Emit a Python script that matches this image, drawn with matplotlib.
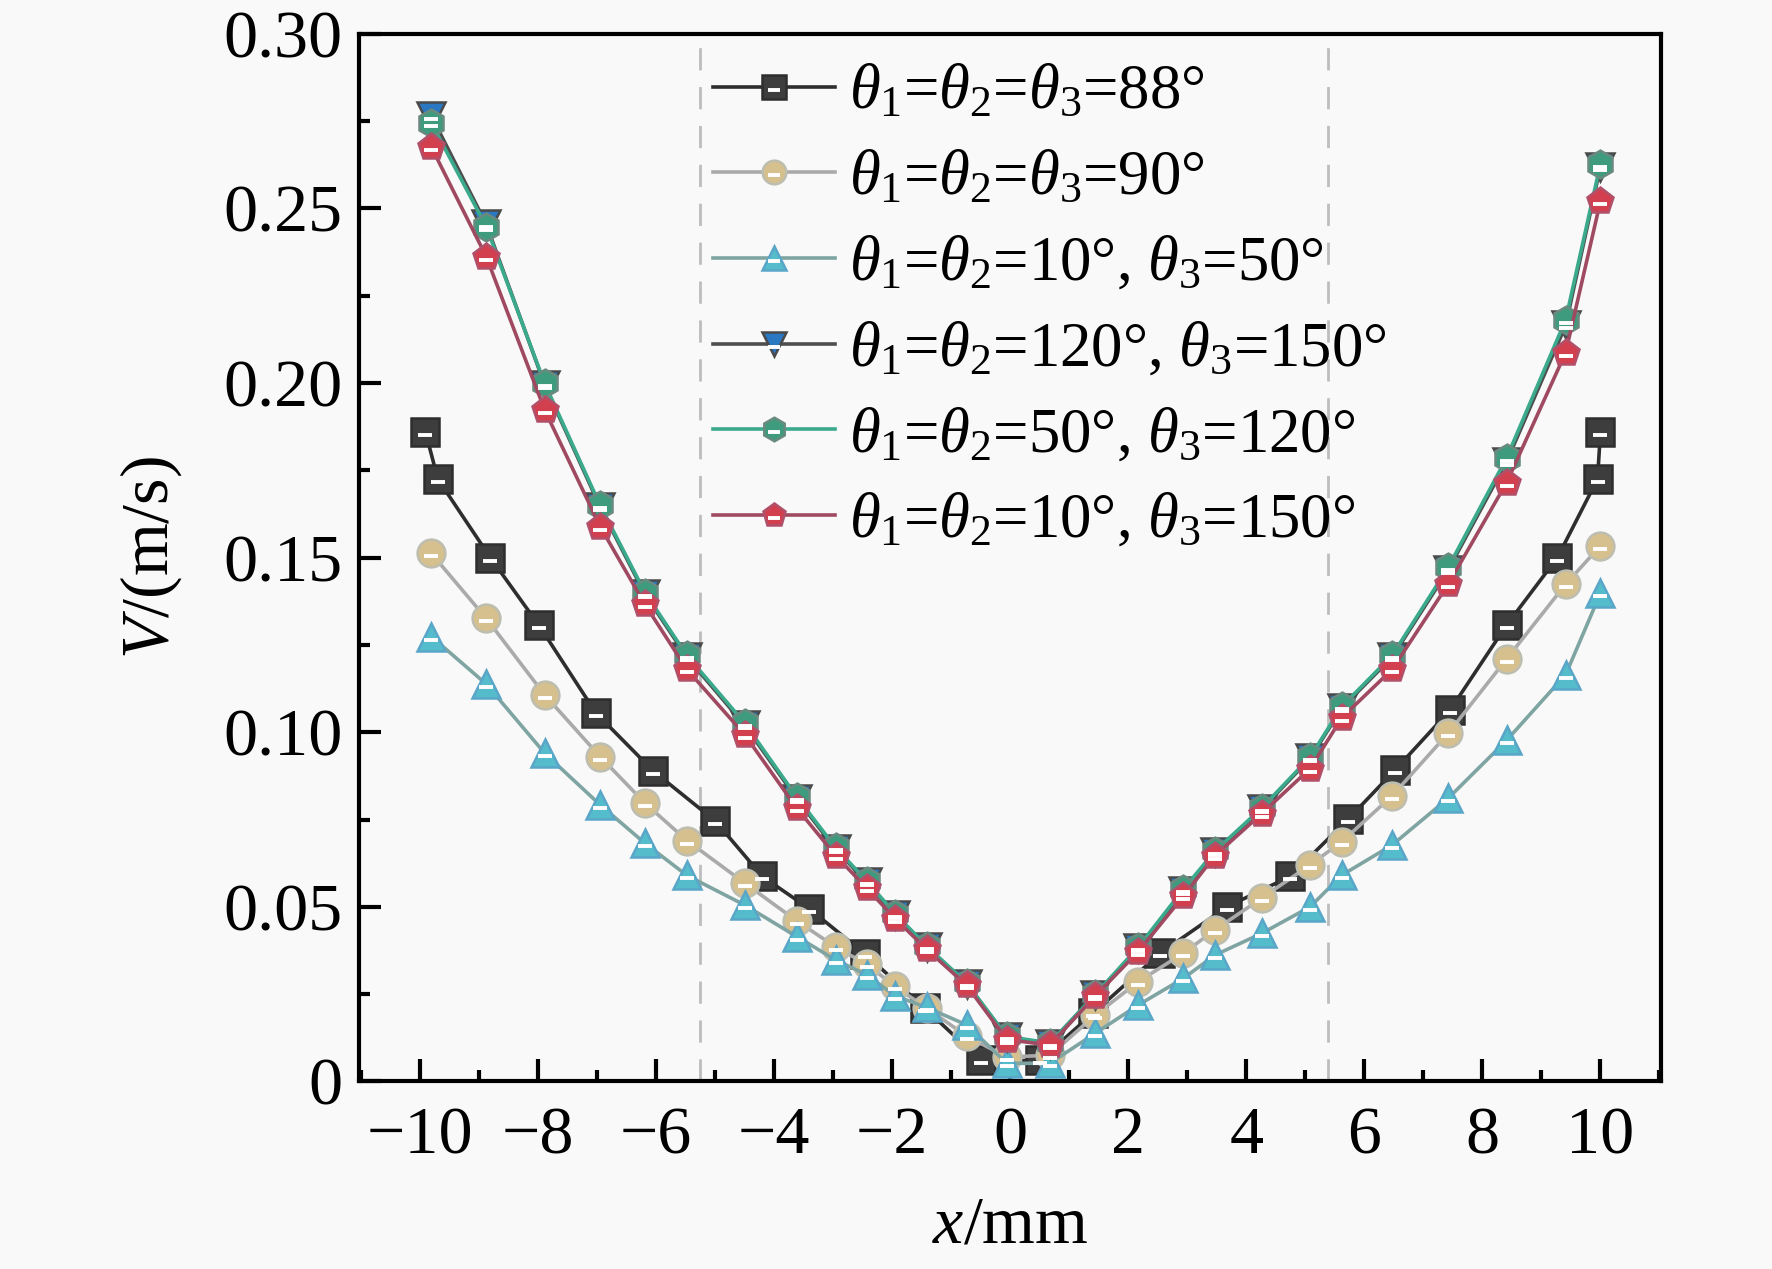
import numpy as np
import matplotlib
matplotlib.use("Agg")
import matplotlib.pyplot as plt
from matplotlib.path import Path
from matplotlib.legend_handler import HandlerTuple
from matplotlib.ticker import MultipleLocator, FuncFormatter

plt.rcParams['font.family'] = ['Liberation Serif', 'DejaVu Serif']
plt.rcParams['mathtext.fontset'] = 'custom'
plt.rcParams['mathtext.rm'] = 'Liberation Serif'
plt.rcParams['mathtext.it'] = 'Liberation Serif:italic'

# x positions (mm) -- squares use their own mesh points
x_sq = [-9.91, -9.70, -8.81, -7.99, -7.02, -6.05, -5.00, -4.20, -3.41, -2.46, -1.45, -0.50,
        0.50, 1.40, 2.54, 3.67, 4.74, 5.73, 6.52, 7.45, 8.41, 9.27, 9.95, 10.00]
x_pts = [-9.81, -8.88, -7.89, -6.95, -6.19, -5.48, -4.50, -3.62, -2.96, -2.43, -1.95, -1.42, -0.74,
         -0.06, 0.67, 1.44, 2.17, 2.93, 3.47, 4.26, 5.08, 5.62, 6.47, 7.42, 8.41, 9.41, 10.00]

v_88 = [0.186, 0.1725, 0.150, 0.1307, 0.1055, 0.0889, 0.0746, 0.0587, 0.0495, 0.0365, 0.021, 0.006,
        0.006, 0.0195, 0.0367, 0.050, 0.0587, 0.0752, 0.0892, 0.1063, 0.1307, 0.150, 0.1725, 0.186]
v_90 = [0.1512, 0.1326, 0.1107, 0.0930, 0.0797, 0.0690, 0.0568, 0.0460, 0.0385, 0.0335, 0.0272, 0.0210,
        0.0130, 0.0070, 0.0075, 0.0190, 0.0286, 0.0367, 0.0434, 0.0525, 0.0620, 0.0687, 0.0818, 0.0997,
        0.1210, 0.1424, 0.1534]
v_10_50 = [0.1274, 0.1138, 0.0940, 0.0792, 0.0682, 0.0590, 0.0505, 0.0415, 0.0348, 0.0305, 0.0245, 0.0212,
           0.0162, 0.0052, 0.0052, 0.0138, 0.0219, 0.0295, 0.0362, 0.0424, 0.0500, 0.0591, 0.0677, 0.0811,
           0.0977, 0.1165, 0.1398]
v_120_150 = [0.2765, 0.2455, 0.1995, 0.1645, 0.1395, 0.1215, 0.1020, 0.0810, 0.0665, 0.0570, 0.0478, 0.0386,
             0.0280, 0.0127, 0.0108, 0.0247, 0.0382, 0.0545, 0.0656, 0.0780, 0.0925, 0.1070, 0.1215, 0.1465,
             0.1775, 0.2165, 0.2620]
v_50_120 = [0.2745, 0.2448, 0.1999, 0.1650, 0.1400, 0.1220, 0.1026, 0.0815, 0.0670, 0.0573, 0.0480, 0.0388,
            0.0282, 0.0129, 0.0110, 0.0249, 0.0385, 0.0550, 0.0660, 0.0783, 0.0929, 0.1074, 0.1220, 0.1472,
            0.1786, 0.2181, 0.2628]
v_10_150 = [0.2676, 0.2362, 0.1923, 0.1589, 0.1366, 0.1180, 0.0993, 0.0783, 0.0647, 0.0553, 0.0466, 0.0379,
            0.0275, 0.0120, 0.0104, 0.0245, 0.0372, 0.0530, 0.0647, 0.0767, 0.0896, 0.1042, 0.1180, 0.1424,
            0.1715, 0.2087, 0.2521]

labels = [r'$\theta_1$=$\theta_2$=$\theta_3$=88°',
          r'$\theta_1$=$\theta_2$=$\theta_3$=90°',
          r'$\theta_1$=$\theta_2$=10°, $\theta_3$=50°',
          r'$\theta_1$=$\theta_2$=120°, $\theta_3$=150°',
          r'$\theta_1$=$\theta_2$=50°, $\theta_3$=120°',
          r'$\theta_1$=$\theta_2$=10°, $\theta_3$=150°']

# data, marker, face, edge, line colour
series = [
    (x_sq, v_88, 's', '#3d3d3d', '#2e2e2e', '#2e2e2e'),
    (x_pts, v_90, 'o', '#d6c08e', '#bdbdb0', '#aaaaaa'),
    (x_pts, v_10_50, '^', '#55bccb', '#5aa6c8', '#7fa5a2'),
    (x_pts, v_120_150, 'v', '#2b78c2', '#4a4a4a', '#4d4d4d'),
    (x_pts, v_50_120, 'h', '#3f9b7d', '#6a8a80', '#3aa98c'),
    (x_pts, v_10_150, 'p', '#d2404f', '#b0506a', '#a04a62'),
]

# small white bar in the lower half of each marker
bar = Path([(-1.0, -0.45), (1.0, -0.45)], [Path.MOVETO, Path.LINETO])

fig = plt.figure(figsize=(8.86, 6.345), dpi=200, facecolor='#f9f9f9')
ax = fig.add_axes([0.2028, 0.1478, 0.7347, 0.8255])
ax.set_facecolor('#f9f9f9')

for xv in (-5.25, 5.38):
    ax.axvline(xv, color='#bdbdbd', lw=1.0, ls=(0, (8, 6)), zorder=1)

handles = []
for (xs, ys, mk, fc, ec, lc) in series:
    ln, = ax.plot(xs, ys, color=lc, lw=1.3, marker=mk, ms=10, mfc=fc, mec=ec, mew=0.9, zorder=3)
    br, = ax.plot(xs, ys, ls='none', marker=bar, ms=5.2, mec='white', mew=1.4, zorder=3.5)
    handles.append((ln, br))

ax.set_xlim(-11.03, 11.03)
ax.set_ylim(0, 0.30)
ax.xaxis.set_major_locator(MultipleLocator(2))
ax.xaxis.set_minor_locator(MultipleLocator(1))
ax.yaxis.set_major_locator(MultipleLocator(0.05))
ax.yaxis.set_minor_locator(MultipleLocator(0.025))
ax.yaxis.set_major_formatter(FuncFormatter(lambda v, p: '0' if abs(v) < 1e-9 else f'{v:.2f}'))
ax.xaxis.set_major_formatter(FuncFormatter(lambda v, p: f'{v:.0f}'.replace('-', '\u2212')))

ax.tick_params(which='both', direction='in', top=False, right=False, labelsize=24.5, width=1.5)
ax.tick_params(which='major', length=8)
ax.tick_params(which='minor', length=4)
ax.tick_params(axis='x', pad=9)
ax.tick_params(axis='y', pad=6)
for sp in ax.spines.values():
    sp.set_linewidth(1.5)

ax.set_xlabel(r'$x$/mm', fontsize=24.5, labelpad=10)
ax.set_ylabel(r'$V$/(m/s)', fontsize=24.5, labelpad=14)

ax.legend(handles, labels, loc='upper left', bbox_to_anchor=(0.2525, 0.9945), frameon=False,
          fontsize=22.6, handlelength=1.94, handletextpad=0.22, labelspacing=0.44, borderaxespad=0,
          numpoints=1, markerscale=0.85, handler_map={tuple: HandlerTuple(ndivide=1)})

fig.savefig('out.png', dpi=200, facecolor=fig.get_facecolor())
